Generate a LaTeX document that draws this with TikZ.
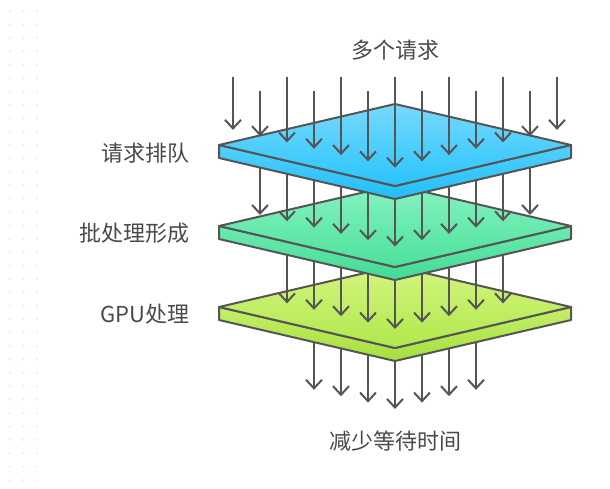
\documentclass[tikz,border=0pt]{standalone}
\usepackage{fontspec}
\setmainfont{Noto Sans CJK SC}
\usepackage{tikz}
\usetikzlibrary{arrows.meta}

\definecolor{edge}{HTML}{555555}
\definecolor{txt}{HTML}{4A4A4A}
\definecolor{dotc}{HTML}{E6E6E6}
\definecolor{blueA}{HTML}{78D9FD}
\definecolor{blueB}{HTML}{28C4FC}
\definecolor{blueC}{HTML}{1FBEFA}
\definecolor{greenA}{HTML}{86F2C0}
\definecolor{greenB}{HTML}{4CE29B}
\definecolor{greenC}{HTML}{42DB93}
\definecolor{limeA}{HTML}{D3F480}
\definecolor{limeB}{HTML}{B1E84B}
\definecolor{limeC}{HTML}{A5E03E}

\begin{document}
\begin{tikzpicture}[
  x=0.5pt,y=-0.5pt,
  font=\fontsize{11}{13}\selectfont,
  >={Straight Barb[length=4.3pt,width=8pt]},
  lab/.style={text=txt,inner sep=0pt},
  face/.style 2 args={draw=edge,line width=1pt,line join=round,top color=#1,bottom color=#2},
  arr/.style={->,draw=edge,line width=1pt}
]
\fill[white,use as bounding box] (0,0) rectangle (610,488);
\foreach \c in {10,23.5,37}
  \foreach \r in {0,...,35}
    \fill[dotc] (\c,11+13.4*\r) circle (0.5pt);

\node[lab] (title) at (395,50) {多个请求};
\node[lab,anchor=east] (queue) at (190,153) {请求排队};
\node[lab,anchor=east] (batch) at (190,233) {批处理形成};
\node[lab,anchor=east] (gpu) at (190,314) {GPU处理};
\node[lab] (result) at (395,441) {减少等待时间};

\foreach \i [evaluate=\i as \ya using 329-6.4*abs(\i), evaluate=\i as \yb using 409-6.4*abs(\i)] in {-3,...,3}
  \draw[arr] (395+27*\i,\ya) -- (395+27*\i,\yb);

\draw[face={limeA!55!limeB}{limeC}] (219,307) -- (395,348) -- (571,307) -- (571,320) -- (395,361) -- (219,320) -- cycle;
\draw[face={limeA}{limeB}] (219,307) -- (395,266) -- (571,307) -- (395,348) -- cycle;

\foreach \i [evaluate=\i as \ya using 246.5-6.3*abs(\i), evaluate=\i as \yb using 329-6.4*abs(\i)] in {-4,...,4}
  \draw[arr] (395+27*\i,\ya) -- (395+27*\i,\yb);

\draw[face={greenA!55!greenB}{greenC}] (219,226) -- (395,267) -- (571,226) -- (571,239) -- (395,280) -- (219,239) -- cycle;
\draw[face={greenA}{greenB}] (219,226) -- (395,185) -- (571,226) -- (395,267) -- cycle;

\foreach \i [evaluate=\i as \ya using 167.7-6.3*abs(\i), evaluate=\i as \yb using 246.5-6.3*abs(\i)] in {-5,...,5}
  \draw[arr] (395+27*\i,\ya) -- (395+27*\i,\yb);

\draw[face={blueA!55!blueB}{blueC}] (219,145) -- (395,186) -- (571,145) -- (571,158) -- (395,199) -- (219,158) -- cycle;
\draw[face={blueA}{blueB}] (219,145) -- (395,104) -- (571,145) -- (395,186) -- cycle;

\foreach \i [evaluate=\i as \yb using 167.7-6.3*abs(\i)] in {-6,-4,...,6}
  \draw[arr] (395+27*\i,77) -- (395+27*\i,\yb);
\foreach \i [evaluate=\i as \yb using 167.7-6.3*abs(\i)] in {-5,-3,...,5}
  \draw[arr] (395+27*\i,91) -- (395+27*\i,\yb);
\end{tikzpicture}
\end{document}
